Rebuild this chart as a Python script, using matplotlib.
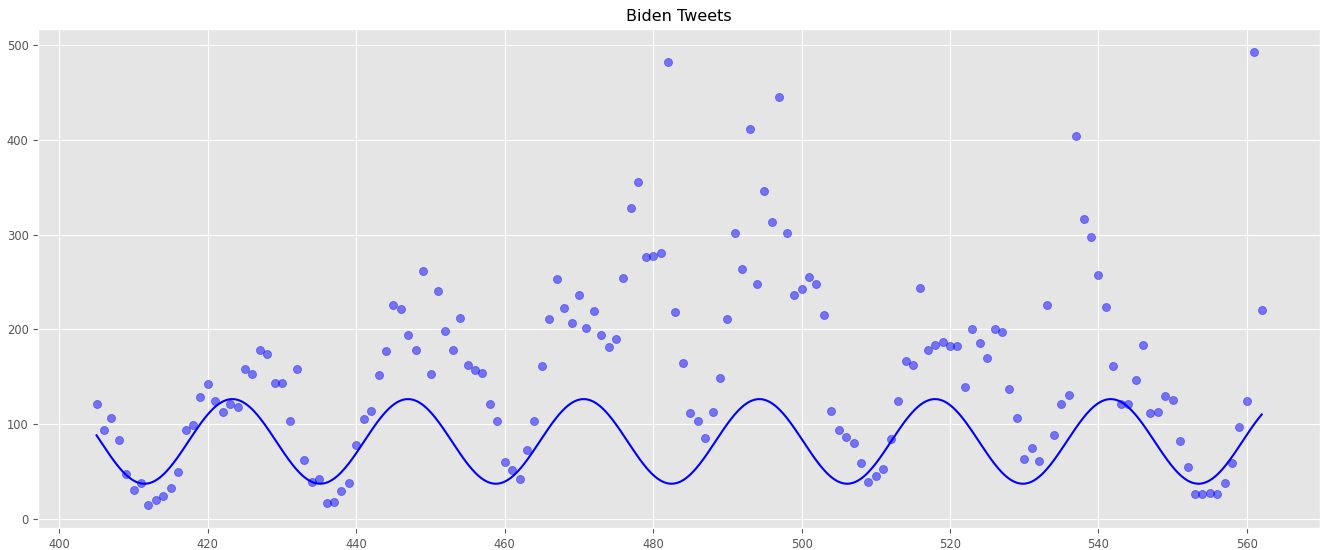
import numpy as np
import matplotlib.pyplot as plt

plt.style.use('ggplot')
plt.rcParams['xtick.labelsize'] = 8.3
plt.rcParams['ytick.labelsize'] = 8.3
plt.rcParams['axes.titlesize'] = 11.5

# daily tweet counts, day index 405..562
days = np.arange(405, 563)
tweets = [
    121, 94, 106, 83, 47, 30, 38, 14, 20, 24,
    32, 49, 94, 99, 128, 142, 124, 113, 121, 118,
    158, 153, 178, 174, 143, 143, 103, 158, 62, 39,
    42, 16, 18, 29, 38, 78, 105, 114, 152, 177,
    226, 221, 194, 178, 262, 153, 240, 198, 178, 212,
    162, 157, 154, 121, 103, 60, 51, 42, 72, 103,
    161, 211, 253, 222, 207, 236, 201, 219, 194, 181,
    190, 254, 328, 356, 276, 277, 281, 482, 218, 164,
    111, 103, 85, 113, 149, 211, 302, 264, 411, 248,
    346, 313, 445, 302, 236, 243, 255, 248, 215, 114,
    94, 86, 80, 59, 39, 45, 52, 84, 124, 166,
    162, 244, 178, 183, 187, 182, 182, 139, 200, 185,
    170, 200, 197, 137, 106, 63, 75, 61, 226, 88,
    121, 131, 404, 316, 297, 257, 223, 161, 121, 121,
    146, 183, 111, 113, 129, 125, 82, 55, 26, 26,
    27, 26, 38, 59, 97, 124, 493, 220,
]

# fitted sinusoid parameters
fit_offset = 81.5
fit_amp = 44.7
fit_period = 23.67
fit_shift = 417.38

x_fit = np.linspace(days[0], days[-1], 1000)
y_fit = fit_offset + fit_amp * np.sin(2 * np.pi / fit_period * (x_fit - fit_shift))

fig = plt.figure(figsize=(13.2, 5.5), dpi=100)
ax = fig.add_axes([0.029, 0.04, 0.971, 0.907])
ax.scatter(days, tweets, color='blue', alpha=0.5, s=34)
ax.plot(x_fit, y_fit, color='blue', lw=1.5)
ax.set_title('Biden Tweets')

plt.savefig('out.png', dpi=100)
